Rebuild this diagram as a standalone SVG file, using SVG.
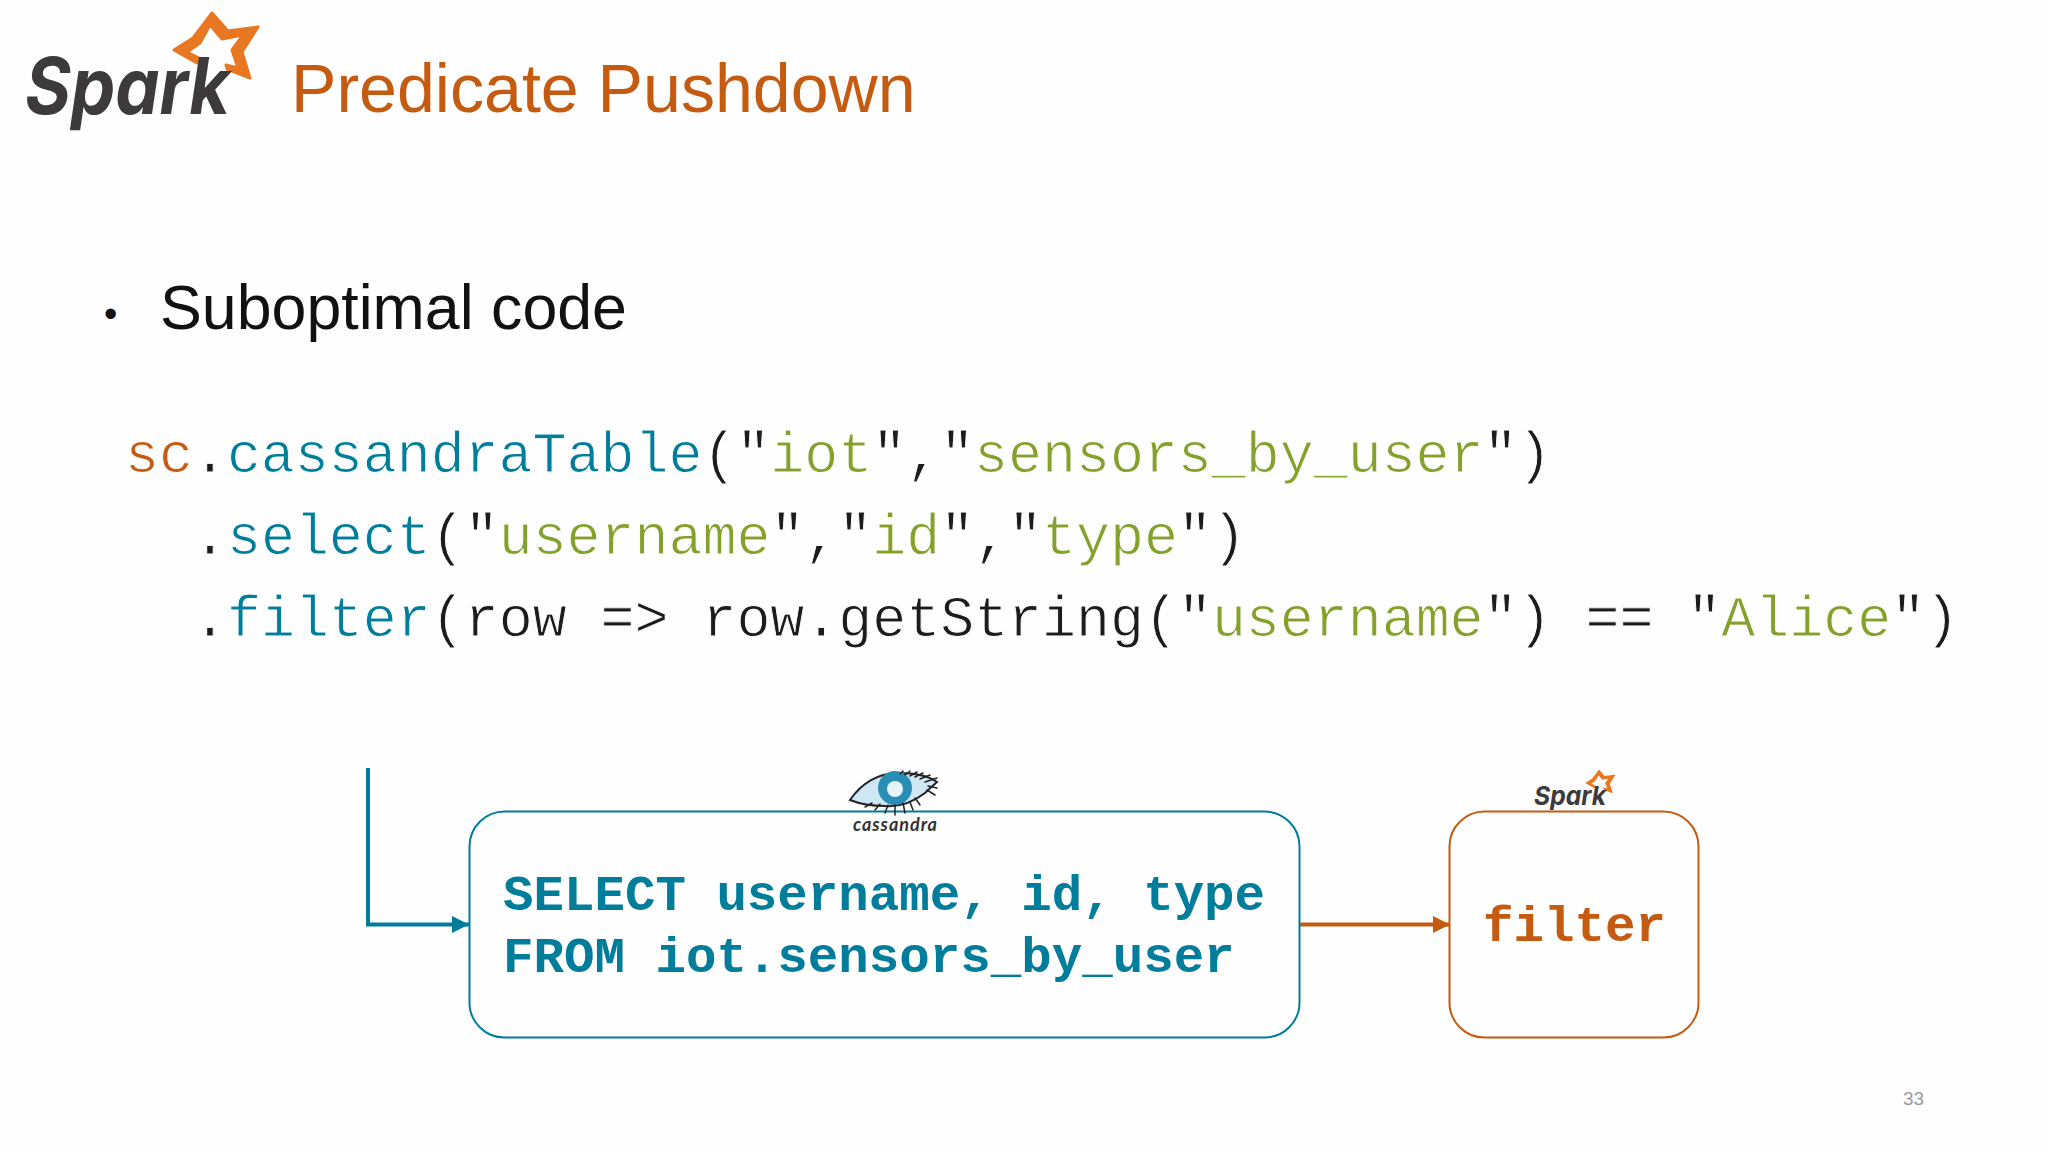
<svg xmlns="http://www.w3.org/2000/svg" width="2048" height="1152" viewBox="0 0 2048 1152">
<defs>
<style>
.code{font-family:"Liberation Mono",monospace;font-size:56.6px;fill:#1c1c1c;stroke:#fefefe;stroke-width:.9px}
.sql{font-family:"Liberation Mono",monospace;font-size:50.8px;font-weight:700}
.t{fill:#007d9b}.o{fill:#c55a11}.g{fill:#86a02c}
.logo{font-family:Inter,sans-serif;font-style:italic;font-weight:700;fill:#3c3a3a}
.lash{fill:none;stroke:#222;stroke-linecap:round}
</style>
<path id="star" fill="#e87722" stroke="#e87722" stroke-width="3" stroke-linejoin="round" d="M212 13L228 31L258 27L242 52L250 78L227 69L226 65L238 68L232 50L243 35L222 39L210 25L200 43L187 52L203 60L197 63L174 50L193 38Z"/>
<marker id="at" viewBox="0 0 10 10" refX="10" refY="5" markerWidth="17" markerHeight="17" markerUnits="userSpaceOnUse" orient="auto"><path d="M0 0L10 5L0 10Z" fill="#007d9b"/></marker>
<marker id="ao" viewBox="0 0 10 10" refX="10" refY="5" markerWidth="17" markerHeight="17" markerUnits="userSpaceOnUse" orient="auto"><path d="M0 0L10 5L0 10Z" fill="#c55a11"/></marker>
</defs>
<rect width="2048" height="1152" fill="#fefefe"/>
<g id="spark-logo">
<use href="#star"/>
<text class="logo" x="25" y="114" font-size="78" textLength="205" lengthAdjust="spacingAndGlyphs">Spark</text>
</g>
<text id="title" x="291" y="112" font-family="Liberation Sans,sans-serif" font-size="68.100" fill="#c55a11">Predicate Pushdown</text>
<text id="bullet" x="104" y="327" font-family="Liberation Sans,sans-serif" font-size="38" fill="#111">•</text>
<text id="heading" x="160" y="329" font-family="Liberation Sans,sans-serif" font-size="62.700" fill="#111">Suboptimal code</text>
<text class="code" x="125" y="472" xml:space="preserve"><tspan class="o">sc</tspan>.<tspan class="t">cassandraTable</tspan>("<tspan class="g">iot</tspan>","<tspan class="g">sensors_by_user</tspan>")</text>
<text class="code" x="193" y="554" xml:space="preserve">.<tspan class="t">select</tspan>("<tspan class="g">username</tspan>","<tspan class="g">id</tspan>","<tspan class="g">type</tspan>")</text>
<text class="code" x="193" y="636" xml:space="preserve">.<tspan class="t">filter</tspan>(row =&gt; row.getString("<tspan class="g">username</tspan>") == "<tspan class="g">Alice</tspan>")</text>
<g id="connectors" fill="none" stroke-width="4">
<path d="M368 768V924.500H469" stroke="#007d9b" marker-end="url(#at)"/>
<path d="M1300 924.500H1450" stroke="#c55a11" marker-end="url(#ao)"/>
</g>
<g id="cassandra-node">
<rect x="469.500" y="811.500" width="830" height="226" rx="35" fill="none" stroke="#007d9b" stroke-width="2"/>
<text class="sql t" x="503" y="910">SELECT username, id, type</text>
<text class="sql t" x="503" y="972">FROM iot.sensors_by_user</text>
</g>
<g id="cassandra-logo">
<path d="M850 800Q868 774 897 773Q925 773 937 782Q928 790 925 793Q905 808 885 806Q865 806 850 800Z" fill="#cfe6f4" stroke="#222" stroke-width="2"/>
<circle cx="895" cy="788" r="17" fill="#2a8db5"/><circle cx="895" cy="789" r="8" fill="#e8f4fa"/>
<path class="lash" stroke-width="1.500" d="M900 774L903 771M905 775L910 771M910 776L917 772M915 777L923 773M920 779L930 775M925 782L937 778M928 786L937 788M927 790L935 795M915 798L920 805M910 802L913 810M903 803L905 813M895 805L895 815M888 805L885 813M880 804L875 810M872 803L865 807"/>
<text x="853" y="831" font-family="Lato,sans-serif" font-size="18" font-style="italic" font-weight="700" fill="#333" textLength="84">cassandra</text>
</g>
<g id="filter-node">
<rect x="1449.500" y="811.500" width="249" height="226" rx="35" fill="none" stroke="#c55a11" stroke-width="2"/>
<text class="sql o" x="1483" y="941">filter</text>
</g>
<g id="spark-small">
<use href="#star" transform="translate(1527 766) scale(.34)"/>
<text class="logo" x="1534" y="805" font-size="26" textLength="72" lengthAdjust="spacingAndGlyphs">Spark</text>
</g>
<text id="page" x="1903" y="1105" font-family="Liberation Sans,sans-serif" font-size="19" fill="#9a9a9a">33</text>
</svg>
